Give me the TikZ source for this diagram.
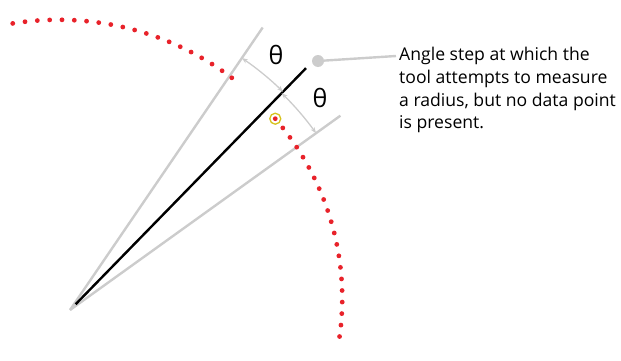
\documentclass[tikz,border=0pt]{standalone}
\usepackage{fontspec}
\setmainfont{Open Sans}
\usetikzlibrary{arrows.meta, positioning, calc}
\definecolor{raygray}{HTML}{CCCCCC}
\definecolor{datared}{HTML}{E8222A}
\definecolor{ringyellow}{HTML}{D6C21C}

\begin{document}
\begin{tikzpicture}[x=1pt, y=1pt, >={Stealth[length=6pt,width=4.5pt]},
  ray/.style={draw=raygray, line width=2.4pt},
  gap/.style={draw=raygray, line width=1.3pt, <->},
  datadot/.style={circle, fill=datared, inner sep=0pt, minimum size=4.8pt},
  ring/.style={circle, draw=ringyellow, line width=1.3pt, inner sep=0pt, minimum size=11pt},
  lbl/.style={font=\fontsize{25}{30}\selectfont}]
  \useasboundingbox (0,0) rectangle (621,360);
  \coordinate (O) at (70,50);
  % rays
  \draw[ray] (O) -- ++(55.7:342) coordinate (upper);
  \draw[ray] (O) -- ++(35.7:333) coordinate (lower);
  \draw[line width=2.4pt] ($(O)+(45.7:8)$) coordinate (s0) -- ++(45.7:330) coordinate (s1);
  % measured radius, with the missing points
  \foreach \k in {0,...,44}{
    \pgfmathsetmacro{\ang}{101.3-2.43*\k}
    \pgfmathsetmacro{\rad}{272+0.2*\ang}
    \pgfmathtruncatemacro{\ingap}{and(\k>19,\k<24)}
    \ifnum\ingap=0
      \node[datadot] (p\k) at ($(O)+(\ang:\rad)$) {};
    \fi
  }
  \node[ring] (hit) at (p24) {};
  % angle steps
  \coordinate (a0) at ($(O)+(55.7:305)$);
  \coordinate (b0) at ($(O)+(45.7:303)$);
  \draw[gap] (a0) arc[start angle=55.7, end angle=45.7, radius=305];
  \draw[gap] (b0) arc[start angle=45.7, end angle=35.7, radius=303];
  \node[lbl] (t1) at (276,305) {θ};
  \node[lbl] (t2) at (320,262) {θ};
  % callout
  \node[circle, fill=raygray, inner sep=0pt, minimum size=12pt] (tip) at (318,299) {};
  \node[anchor=north west, align=left, inner sep=0pt,
        font=\fontsize{17.6}{22.8}\selectfont] (note) at (399,313)
    {Angle step at which the\\tool attempts to measure\\a radius, but no data point\\is present.};
  \coordinate (lead) at (396,304);
  \draw[ray] (tip) -- (lead);
\end{tikzpicture}
\end{document}
